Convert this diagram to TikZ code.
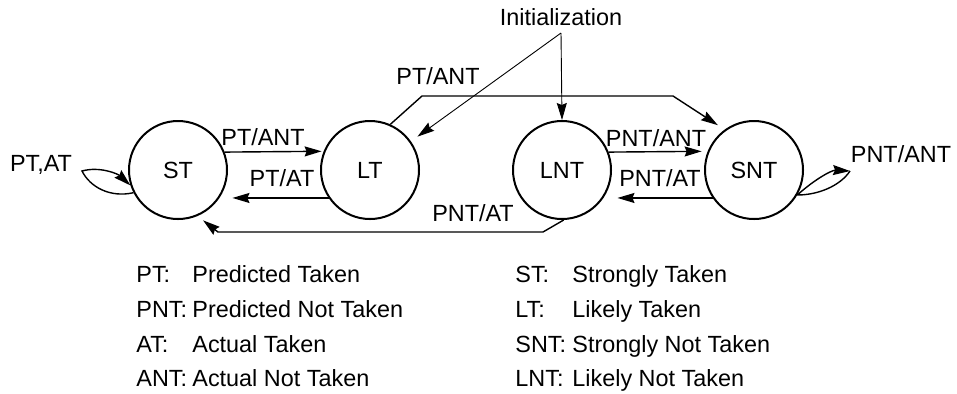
\documentclass[tikz,border=0pt]{standalone}
\usepackage{fontspec}
\setmainfont{Liberation Sans}
\usetikzlibrary{arrows.meta}

\begin{document}
\begin{tikzpicture}[x=0.5pt,y=-0.5pt,>={Stealth[length=8.5pt,width=5pt,inset=1pt]},
  state/.style={draw,circle,line width=1pt,minimum size=49pt,inner sep=0pt,font=\fontsize{11.7}{14}\selectfont},
  lbl/.style={anchor=base,inner sep=0pt,font=\fontsize{11.7}{14}\selectfont},
  key/.style={anchor=base west,inner sep=0pt,font=\fontsize{11.7}{14}\selectfont},
  trans/.style={->,line width=0.7pt},
  initline/.style={->,line width=0.45pt}]
  \useasboundingbox (0,0) rectangle (957,393);
  % states
  \node[state] (st)  at (178,170) {ST};
  \node[state] (lt)  at (370,170) {LT};
  \node[state] (lnt) at (562,170) {LNT};
  \node[state] (snt) at (754,170) {SNT};
  % initial state
  \node[lbl] (initlbl) at (561,25) {Initialization};
  \coordinate (initpt) at (561,33);
  \draw[initline] (initpt) -- (lnt.north);
  \draw[initline,shorten >=4pt] (initpt) -- (lt.35);
  % neighbour transitions
  \draw[trans,shorten >=1pt] (st.21.6) -- (lt.158.4);
  \draw[trans,shorten >=6.5pt] (lt.-146) -- (st.-34);
  \draw[trans,shorten >=3pt] (lnt.21.6) -- (snt.158.4);
  \draw[trans,shorten >=7pt] (snt.-146) -- (lnt.-34);
  \node[lbl] (l1) at (263,145.5) {PT/ANT};
  \node[lbl] (l2) at (282,186) {PT/AT};
  \node[lbl] (l3) at (656,146) {PNT/ANT};
  \node[lbl] (l4) at (660,186) {PNT/AT};
  % long jumps
  \draw[trans,shorten >=4pt] (lt.66) -- (422,96) -- (673,96) -- (snt.126.5);
  \node[lbl] (l5) at (438,84) {PT/ANT};
  \draw[trans,shorten >=3.5pt] (lnt.-88) -- (543,232) -- (218,232) -- (st.-67);
  \node[lbl] (l6) at (473,221) {PNT/AT};
  % self loops
  \coordinate (stloop) at (82,171);
  \draw[trans] (st.207) .. controls (110,198) and (90,187) .. (stloop)
    .. controls (100,166) and (118,174) .. (st.198);
  \node[lbl] (l7) at (41,171) {PT,AT};
  \coordinate (sntloop) at (850,171);
  \draw[trans] (sntloop) .. controls (840,186) and (818,195) .. (snt.-30)
    .. controls (815,179) and (832,170) .. (sntloop);
  \node[lbl] (l8) at (901,162) {PNT/ANT};
  % legend
  \foreach \yy/\ka/\va/\kb/\vb in {282.5/PT:/Predicted Taken/ST:/Strongly Taken,
      317.5/PNT:/Predicted Not Taken/LT:/Likely Taken,
      352.5/AT:/Actual Taken/SNT:/Strongly Not Taken,
      386.5/ANT:/Actual Not Taken/LNT:/Likely Not Taken}{
    \node[key] (ka\yy) at (136,\yy) {\ka};
    \node[key] (va\yy) at (192,\yy) {\va};
    \node[key] (kb\yy) at (515,\yy) {\kb};
    \node[key] (vb\yy) at (572,\yy) {\vb};
  }
\end{tikzpicture}
\end{document}
